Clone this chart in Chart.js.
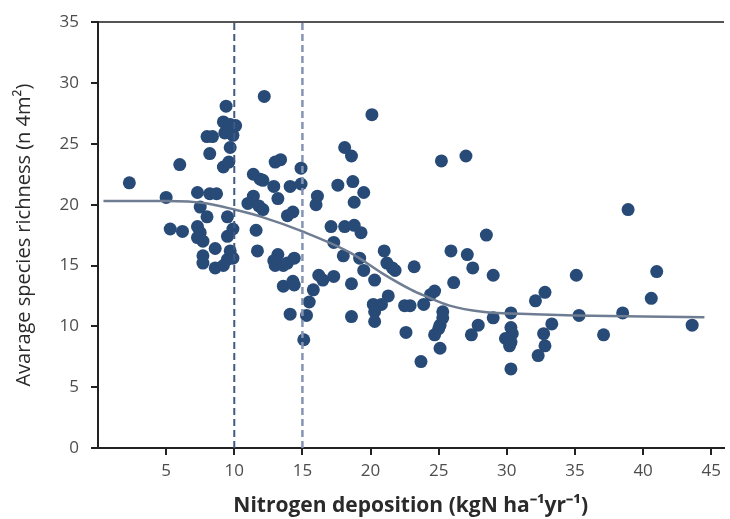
<!DOCTYPE html>
<html>
<head>
<meta charset="utf-8">
<script src="https://cdn.jsdelivr.net/npm/chart.js@4/dist/chart.umd.min.js"></script>
<style>
  body { margin: 0; background: #fff; }
</style>
</head>
<body>
<canvas id="myChart1" width="730" height="519"></canvas>
<script>
// plots: nitrogen deposition vs species richness
const depX = [2.3,5.0,5.3,6.0,6.2,7.3,7.5,8.0,7.3,7.5,7.3,7.7,7.7,7.7,8.6,8.6,8.2,8.7,8.0,8.4,8.2,9.4,9.2,9.7,10.1,9.3,9.9,9.7,9.6,9.2,9.5,9.9,9.5,9.7,9.5,9.2,9.9,
  12.2,20.1,18.1,18.6,13.0,13.4,14.9,11.4,11.9,12.1,12.9,14.1,14.9,17.6,18.7,19.5,16.1,16.0,13.2,11.4,11.8,12.1,11.0,18.8,13.9,14.3,11.6,17.1,18.1,18.8,19.3,17.3,11.7,13.2,12.9,13.0,13.6,13.9,14.4,18.0,19.2,19.5,21.0,21.2,21.6,21.8,20.3,18.6,16.2,16.5,17.3,13.6,14.3,14.4,15.8,15.5,21.3,20.2,20.8,20.3,20.3,22.5,22.9,14.1,15.3,18.6,15.1,22.6,23.2,
  25.2,27.0,38.9,28.5,25.9,27.1,27.5,29.0,26.1,35.1,41.0,40.6,32.8,32.1,24.7,24.4,23.9,25.3,25.3,25.1,25.0,24.7,25.1,23.7,29.0,30.3,27.9,27.4,30.3,30.4,29.9,30.3,30.2,30.3,33.3,32.7,32.8,32.3,35.3,37.1,38.5,43.6];
const richness = [21.8,20.6,18.0,23.3,17.8,21.0,19.8,19.0,18.2,17.7,17.3,17.0,15.8,15.2,16.4,14.8,20.9,20.9,25.6,25.6,24.2,28.1,26.8,26.6,26.5,25.9,25.7,24.7,23.5,23.1,19.0,18.0,17.4,16.2,15.5,15.0,15.6,
  28.9,27.4,24.7,24.0,23.5,23.7,23.0,22.5,22.1,22.0,21.5,21.5,21.7,21.6,21.9,21.0,20.7,20.0,20.5,20.7,19.9,19.6,20.1,20.2,19.1,19.4,17.9,18.2,18.2,18.3,17.7,16.9,16.2,15.9,15.4,15.0,15.0,15.2,15.6,15.8,15.6,14.6,16.2,15.2,14.8,14.6,13.8,13.5,14.2,13.8,14.1,13.3,13.7,13.4,13.0,12.0,12.5,11.8,11.8,11.2,10.4,11.7,11.7,11.0,10.9,10.8,8.9,9.5,14.9,
  23.6,24.0,19.6,17.5,16.2,15.9,14.8,14.2,13.6,14.2,14.5,12.3,12.8,12.1,12.9,12.6,11.8,11.2,10.7,10.1,9.8,9.3,8.2,7.1,10.7,11.1,10.1,9.3,9.9,9.4,9.0,8.7,8.4,6.5,10.2,9.4,8.4,7.6,10.9,9.3,11.1,10.1];

// fitted curve
const fitX = [0.4, 5, 8, 10, 12, 15, 18.6, 20.8, 23, 24, 25.8, 28.2, 32, 35, 40, 44.5];
const fitY = [20.3, 20.3, 20.1, 19.6, 19.0, 17.8, 16.0, 14.4, 13.0, 12.5, 11.7, 11.2, 11.0, 10.9, 10.8, 10.75];

// thresholds
const thresholds = [10, 15];

const xTicks = [5, 10, 15, 20, 25, 30, 35, 40, 45];
const yTicks = [0, 5, 10, 15, 20, 25, 30, 35];

const tickFont = { family: "'Open Sans'", size: 17 };

new Chart(document.getElementById("myChart1"), {
  type: "scatter",
  data: {
    datasets: [
      {
        data: depX.map((x, i) => ({ x: x, y: richness[i] })),
        backgroundColor: "#284a77",
        borderColor: "#284a77",
        pointRadius: 6.5,
        borderWidth: 0,
        order: 3
      },
      {
        type: "line",
        data: fitX.map((x, i) => ({ x: x, y: fitY[i] })),
        borderColor: "#6f7d92",
        borderWidth: 2.5,
        pointRadius: 0,
        cubicInterpolationMode: "monotone",
        fill: false,
        order: 2
      },
      {
        type: "line",
        data: [{ x: thresholds[0], y: 0 }, { x: thresholds[0], y: 35 }],
        borderColor: "#3f5a82",
        borderWidth: 2,
        borderDash: [7, 4],
        pointRadius: 0,
        order: 1
      },
      {
        type: "line",
        data: [{ x: thresholds[1], y: 0 }, { x: thresholds[1], y: 35 }],
        borderColor: "#8594b3",
        borderWidth: 2.5,
        borderDash: [7, 4],
        pointRadius: 0,
        order: 1
      }
    ]
  },
  options: {
    responsive: false,
    animation: false,
    layout: { padding: 0 },
    plugins: { legend: { display: false }, tooltip: { enabled: false } },
    scales: {
      x: {
        type: "linear",
        position: "bottom",
        min: 0,
        max: 45.9,
        afterBuildTicks: (axis) => { axis.ticks = xTicks.map(v => ({ value: v })); },
        afterFit: (scale) => { scale.height = 71; },
        ticks: { color: "#4d4d4d", font: tickFont, padding: 6, maxRotation: 0 },
        grid: { drawOnChartArea: false, drawTicks: true, tickLength: 7, tickColor: "#222", lineWidth: 2 },
        border: { color: "#222", width: 2 },
        title: {
          display: true,
          text: "Nitrogen deposition (kgN ha⁻¹yr⁻¹)",
          color: "#2a2a2a",
          font: { family: "'Open Sans'", size: 21, weight: "bold" },
          padding: { top: 0, bottom: 0 }
        }
      },
      x2: {
        type: "linear",
        position: "top",
        min: 0,
        max: 45.9,
        afterFit: (scale) => { scale.height = 15; },
        ticks: { display: false },
        grid: { display: false },
        border: { color: "#555", width: 2 }
      },
      y: {
        min: 0,
        max: 35,
        afterBuildTicks: (axis) => { axis.ticks = yTicks.map(v => ({ value: v })); },
        afterFit: (scale) => { scale.width = 98; },
        ticks: { color: "#4d4d4d", font: tickFont, padding: 12 },
        grid: { drawOnChartArea: false, drawTicks: true, tickLength: 7, tickColor: "#222", lineWidth: 2 },
        border: { color: "#222", width: 2 },
        title: {
          display: true,
          text: "Avarage species richness (n 4m²)",
          color: "#2a2a2a",
          font: { family: "'Open Sans'", size: 20 },
          padding: { top: 12, bottom: 0 }
        }
      }
    }
  }
});
</script>
</body>
</html>
